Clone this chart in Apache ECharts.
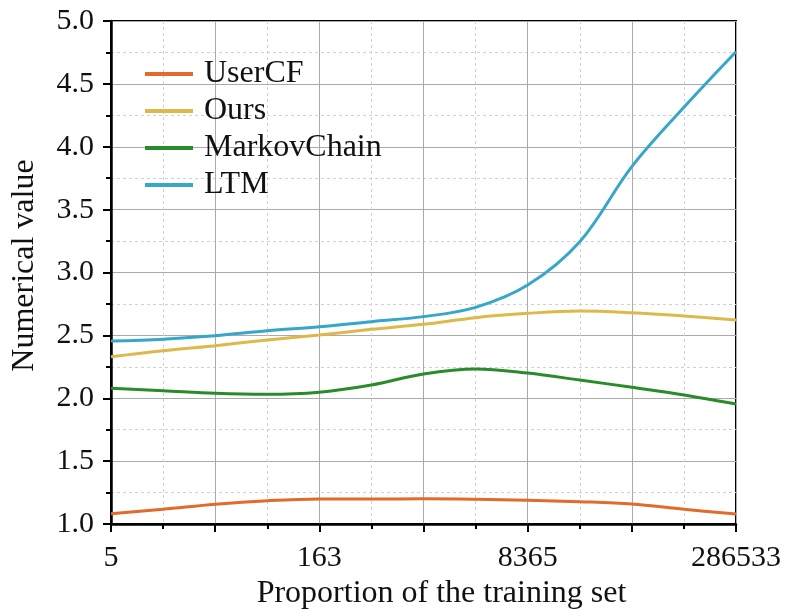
<!DOCTYPE html>
<html>
<head>
<meta charset="utf-8">
<script src="https://cdn.jsdelivr.net/npm/echarts@6/dist/echarts.min.js"></script>
<style>html,body{margin:0;padding:0;background:#fff;}#c{width:788px;height:609px;}</style>
</head>
<body>
<div id="c"></div>
<script>
// x positions (equal-spaced steps on the axis)
var xPos = [0, 0.5, 1, 1.5, 2, 2.5, 3, 3.5, 4, 4.5, 5, 5.5, 6];
var xTickLabels = ['5', '', '163', '', '8365', '', '286533'];
var seriesNames = ['UserCF', 'Ours', 'MarkovChain', 'LTM'];
var userCF = [1.082, 1.117, 1.157, 1.185, 1.199, 1.199, 1.200, 1.196, 1.188, 1.177, 1.159, 1.117, 1.080];
var ours = [2.330, 2.378, 2.418, 2.463, 2.503, 2.548, 2.588, 2.641, 2.675, 2.694, 2.680, 2.654, 2.622];
var markov = [2.079, 2.060, 2.039, 2.031, 2.048, 2.105, 2.193, 2.233, 2.200, 2.145, 2.087, 2.026, 1.954];
var ltm = [2.455, 2.470, 2.497, 2.537, 2.569, 2.609, 2.649, 2.723, 2.900, 3.245, 3.842, 4.314, 4.756];
var colors = ['#E06B2B', '#DDB94C', '#2A8B2A', '#36A6C9'];

function pairs(arr) { return xPos.map(function (x, i) { return [x, arr[i]]; }); }

var font = '"Liberation Serif", "Times New Roman", serif';
var chart = echarts.init(document.getElementById('c'), null, {renderer: 'canvas'});
var dataSets = [userCF, ours, markov, ltm];
chart.setOption({
  animation: false,
  backgroundColor: '#fff',
  grid: {left: 111, right: 52, top: 21, bottom: 85, show: true, borderColor: '#000', borderWidth: 2,
    backgroundColor: 'transparent', containLabel: false, outerBoundsMode: 'none'},
  legend: {
    orient: 'vertical', left: 140, top: 53,
    itemWidth: 48, itemHeight: 4, itemGap: 5, icon: 'rect',
    textStyle: {fontFamily: font, fontSize: 32, color: '#111', padding: [0, 0, 0, 6]},
    data: seriesNames
  },
  xAxis: {
    type: 'value', min: 0, max: 6, interval: 1,
    name: 'Proportion of the training set', nameLocation: 'middle', nameGap: 51,
    nameTextStyle: {fontFamily: font, fontSize: 32, color: '#111', padding: [0, 0, 0, 36]},
    axisLine: {lineStyle: {color: '#000', width: 2.5}},
    axisTick: {length: 8, lineStyle: {color: '#000', width: 2}},
    minorTick: {show: true, splitNumber: 2, length: 5, lineStyle: {color: '#000', width: 2}},
    axisLabel: {fontFamily: font, fontSize: 30, color: '#111', margin: 19,
      formatter: function (v) { return xTickLabels[Math.round(v)] || ''; }},
    splitLine: {show: true, lineStyle: {color: '#aaa', width: 1}},
    minorSplitLine: {show: true, lineStyle: {color: '#d0d0d0', width: 1, type: [3, 3]}}
  },
  yAxis: {
    type: 'value', min: 1, max: 5, interval: 0.5,
    name: 'Numerical value', nameLocation: 'middle', nameGap: 70, nameRotate: 90,
    nameTextStyle: {fontFamily: font, fontSize: 32, color: '#111', padding: [0, 0, 0, 14]},
    axisLine: {show: true, lineStyle: {color: '#000', width: 2.5}},
    axisTick: {show: true, length: 8, lineStyle: {color: '#000', width: 2}},
    minorTick: {show: true, splitNumber: 2, length: 5, lineStyle: {color: '#000', width: 2}},
    axisLabel: {fontFamily: font, fontSize: 30, color: '#111', margin: 17,
      formatter: function (v) { return v.toFixed(1); }},
    splitLine: {show: true, lineStyle: {color: '#aaa', width: 1}},
    minorSplitLine: {show: true, lineStyle: {color: '#d0d0d0', width: 1, type: [3, 3]}}
  },
  series: seriesNames.map(function (n, i) {
    return {
      name: n, type: 'line', data: pairs(dataSets[i]), smooth: 0.35,
      showSymbol: false, symbol: 'none',
      lineStyle: {color: colors[i], width: 3}, itemStyle: {color: colors[i]}
    };
  })
});
</script>
</body>
</html>
